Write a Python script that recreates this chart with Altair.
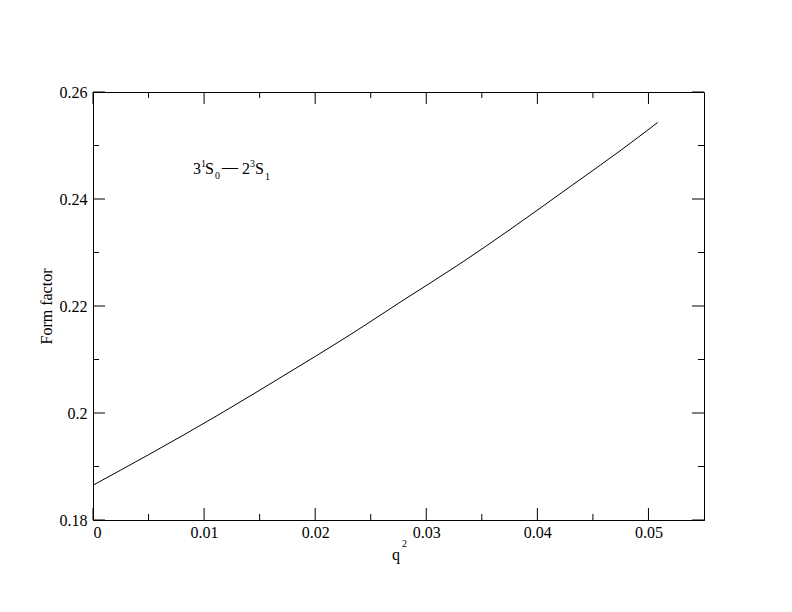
import altair as alt
import pandas as pd

# ---- data ----
q2 = [0.0, 0.005, 0.01125, 0.01773, 0.02313, 0.02764, 0.03304, 0.03754, 0.04294, 0.04744, 0.05083]
form_factor = [0.1865, 0.1922, 0.1996, 0.2077, 0.2146, 0.2207, 0.2279, 0.2343, 0.2423, 0.2490, 0.2543]

x_major = [0.0, 0.01, 0.02, 0.03, 0.04, 0.05]
x_minor = [0.005, 0.015, 0.025, 0.035, 0.045]
y_major = [0.18, 0.20, 0.22, 0.24, 0.26]
y_minor = [0.19, 0.21, 0.23, 0.25]

x_domain = [0.0, 0.055]
y_domain = [0.18, 0.26]

W, H = 611, 428
FONT = "Liberation Serif"

curve = pd.DataFrame({"q2": q2, "ff": form_factor})

xs = alt.Scale(domain=x_domain, nice=False, zero=False)
ys = alt.Scale(domain=y_domain, nice=False, zero=False)

x_axis = alt.Axis(values=x_major, format=".2~f", labelPadding=4, title=None,
                  labelFont=FONT, labelFontSize=16)
y_axis = alt.Axis(values=y_major, format=".2~f", labelPadding=6,
                  labelFont=FONT, labelFontSize=16,
                  title="Form factor",
                  titleAngle=270, titleX=-47, titleY=H / 2,
                  titleAlign="center", titleBaseline="middle")

line = alt.Chart(curve).mark_line(color="black", strokeWidth=1, interpolate="monotone").encode(
    x=alt.X("q2:Q", scale=xs, axis=x_axis),
    y=alt.Y("ff:Q", scale=ys, axis=y_axis),
)


def xticks(vals, length):
    df = pd.DataFrame({"v": vals})
    base = alt.Chart(df).mark_rule(color="black", strokeWidth=1)
    bottom = base.encode(x=alt.X("v:Q", scale=xs, axis=x_axis), y=alt.value(H), y2=alt.value(H - length))
    top = base.encode(x=alt.X("v:Q", scale=xs, axis=x_axis), y=alt.value(0), y2=alt.value(length))
    return [bottom, top]


def yticks(vals, length):
    df = pd.DataFrame({"v": vals})
    base = alt.Chart(df).mark_rule(color="black", strokeWidth=1)
    left = base.encode(y=alt.Y("v:Q", scale=ys, axis=y_axis), x=alt.value(0), x2=alt.value(length))
    right = base.encode(y=alt.Y("v:Q", scale=ys, axis=y_axis), x=alt.value(W), x2=alt.value(W - length))
    return [left, right]


def label(text, x, y, size):
    return alt.Chart(pd.DataFrame({"t": [text]})).mark_text(
        font=FONT, fontSize=size, color="black", align="left", baseline="alphabetic"
    ).encode(text="t:N", x=alt.value(x), y=alt.value(y))


layers = [line]
layers += xticks(x_major, 12) + xticks(x_minor, 6)
layers += yticks(y_major, 12) + yticks(y_minor, 6)

# annotation 3^1S_0 — 2^3S_1
layers += [
    label("3", 100, 82, 16), label("1", 108, 75, 10), label("S", 112, 82, 16),
    label("0", 122, 87, 10), label("\u2014", 129, 80, 16),
    label("2", 149, 82, 16), label("3", 157, 75, 10), label("S", 162, 82, 16),
    label("1", 172, 88, 10),
]
# x-axis title q^2
layers += [label("q", 299, 468, 16), label("2", 309, 455, 10)]

chart = alt.layer(*layers).properties(
    width=W, height=H,
    autosize=alt.AutoSizeParams(type="none"),
    padding={"left": 85, "top": 84, "right": 80, "bottom": 84},
    background="white",
).configure(font=FONT).configure_view(stroke="black", strokeWidth=1).configure_axis(
    labelFont=FONT, labelFontSize=16, labelColor="black",
    titleFont=FONT, titleFontSize=16, titleFontWeight="normal", titleColor="black",
    domainColor="black", ticks=False, grid=False,
)

chart.save("out.html", embed_options={"renderer": "svg", "actions": False})
